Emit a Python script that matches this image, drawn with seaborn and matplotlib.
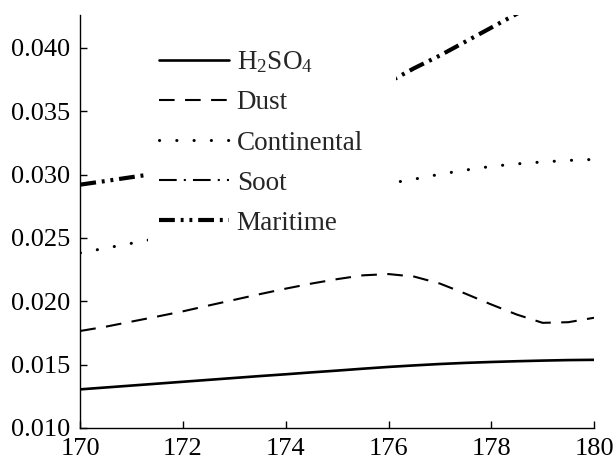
import matplotlib
matplotlib.use("Agg")
import matplotlib.pyplot as plt
import matplotlib.patches as mpatches
from matplotlib.ticker import FormatStrFormatter
import numpy as np
import pandas as pd
import seaborn as sns

# ---- data ----
x_half = [170.0, 170.5, 171.0, 171.5, 172.0, 172.5, 173.0, 173.5, 174.0, 174.5,
          175.0, 175.5, 176.0, 176.5, 177.0, 177.5, 178.0, 178.5, 179.0, 179.5, 180.0]
h2so4 = [0.01305, 0.01320, 0.01335, 0.01350, 0.01365, 0.01380, 0.01395, 0.01410,
         0.01424, 0.01439, 0.01453, 0.01468, 0.01482, 0.01494, 0.01505, 0.01514,
         0.01521, 0.01527, 0.01532, 0.01536, 0.01538]
dust = [0.01766, 0.01800, 0.01840, 0.01880, 0.01921, 0.01967, 0.02012, 0.02057,
        0.02100, 0.02140, 0.02175, 0.02205, 0.02215, 0.02195, 0.02140, 0.02060,
        0.01975, 0.01895, 0.01830, 0.01835, 0.01870]
continental = [0.02382, 0.02420, 0.02458, 0.02497, 0.02540, 0.02585, 0.02630, 0.02680,
               0.02730, 0.02780, 0.02840, 0.02890, 0.02930, 0.02964, 0.03003, 0.03036,
               0.03065, 0.03085, 0.03100, 0.03112, 0.03120]
maritime = [0.02921, 0.02950, 0.02980, 0.03010, 0.03045, 0.03090, 0.03140, 0.03210,
            0.03290, 0.03390, 0.03500, 0.03610, 0.03730, 0.03840, 0.03940, 0.04050,
            0.04160, 0.04270, 0.04380, 0.04490, 0.04600]
x_int = [170, 171, 172, 173, 174, 175, 176, 177, 178, 179, 180]
soot = [0.0450, 0.0462, 0.0475, 0.0489, 0.0503, 0.0518, 0.0533, 0.0548, 0.0563, 0.0578, 0.0593]

labels = ["H$_2$SO$_4$", "Dust", "Continental", "Soot", "Maritime"]
x_ticks = [170, 172, 174, 176, 178, 180]
y_ticks = [0.010, 0.015, 0.020, 0.025, 0.030, 0.035, 0.040]

# ---- style ----
sns.set_style("ticks")
plt.rcParams["font.family"] = ["Liberation Serif", "DejaVu Serif"]
plt.rcParams["mathtext.fontset"] = "custom"
plt.rcParams["mathtext.rm"] = "Liberation Serif"
plt.rcParams["mathtext.it"] = "Liberation Serif:italic"
plt.rcParams["mathtext.default"] = "regular"

fig = plt.figure(figsize=(6.13, 4.61), dpi=100)
ax = fig.add_axes([0.131, 0.0716, 0.838, 0.8959])

series = [
    (x_half, h2so4, labels[0], dict(lw=1.9, linestyle="-")),
    (x_half, dust, labels[1], dict(lw=1.5, linestyle=(0, (7.5, 5.0)))),
    (x_half, continental, labels[2], dict(lw=2.2, linestyle=(0, (0.05, 5.6)),
                                           dash_capstyle="round")),
    (x_int, soot, labels[3], dict(lw=1.5, linestyle=(0, (8.5, 3.4, 1.0, 3.4)))),
    (x_half, maritime, labels[4], dict(lw=3.0, linestyle=(0, (3.8, 1.4, 0.7, 1.4, 0.7, 1.4)))),
]

for xs, ys, lab, kw in series:
    df = pd.DataFrame({"x": xs, "y": ys})
    sns.lineplot(data=df, x="x", y="y", ax=ax, color="black", label=lab,
                 sort=True, estimator=None, zorder=2, **kw)

# white mask behind legend (as in reference)
mask = mpatches.Rectangle((0.131, 0.415), 0.484, 0.6, transform=ax.transAxes,
                          facecolor="white", edgecolor="none", zorder=3)
ax.add_patch(mask)

ax.set_xlim(170, 180)
ax.set_ylim(0.010, 0.0426)
ax.set_xticks(x_ticks)
ax.set_yticks(y_ticks)
ax.yaxis.set_major_formatter(FormatStrFormatter("%.3f"))
ax.set_xlabel("")
ax.set_ylabel("")
for s in ["top", "right"]:
    ax.spines[s].set_visible(False)
for s in ["left", "bottom"]:
    ax.spines[s].set_linewidth(1.0)
    ax.spines[s].set_color("black")
ax.tick_params(direction="in", length=5, width=1.0, colors="black", labelsize=19)
ax.tick_params(axis="y", pad=7)
ax.tick_params(axis="x", pad=7)

leg = ax.legend(loc="upper left", bbox_to_anchor=(0.142, 0.93), frameon=False,
                fontsize=19.5, handlelength=2.6, handletextpad=0.28,
                labelspacing=0.56, borderpad=0.2, borderaxespad=0)
leg.set_zorder(5)

fig.savefig("out.png", dpi=100)
